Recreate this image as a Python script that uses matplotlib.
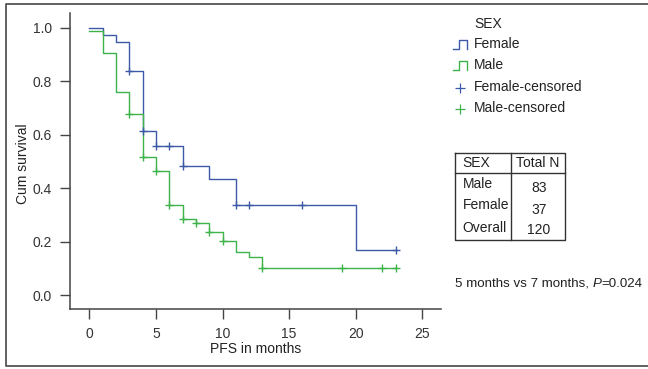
import numpy as np
import matplotlib
matplotlib.use("Agg")
import matplotlib.pyplot as plt

plt.rcParams['font.family'] = ['Liberation Sans', 'DejaVu Sans']
plt.rcParams['mathtext.fontset'] = 'custom'
plt.rcParams['mathtext.rm'] = 'Liberation Sans'
plt.rcParams['mathtext.it'] = 'Liberation Sans:italic'

# Kaplan-Meier steps
female_times = [0, 1, 2, 3, 4, 5, 7, 9, 11, 20, 23]
female_surv = [1.0, 0.973, 0.946, 0.838, 0.615, 0.557, 0.484, 0.434, 0.338, 0.169, 0.169]
male_times = [0, 1, 2, 3, 4, 5, 6, 7, 8, 9, 10, 11, 12, 13, 23]
male_surv = [0.988, 0.904, 0.761, 0.676, 0.517, 0.465, 0.336, 0.283, 0.268, 0.237,
             0.201, 0.161, 0.142, 0.101, 0.101]

# censored observations (months)
female_censored = [3, 4, 5, 6, 7, 11, 12, 16, 23]
male_censored = [3, 4, 5, 6, 7, 8, 9, 10, 13, 19, 22, 23]

# case summary table
table_sex = ["Male", "Female", "Overall"]
table_n = [83, 37, 120]

x_ticks = [0, 5, 10, 15, 20, 25]
y_ticks = [0.0, 0.2, 0.4, 0.6, 0.8, 1.0]

BLUE = "#3d5aa8"
GREEN = "#3db34a"
GRAY = "#444444"
TXT = "#222222"

W, H = 648, 369


def surv_at(times, surv, t):
    idx = np.searchsorted(times, t, side='right') - 1
    return surv[idx]


fig = plt.figure(figsize=(W / 100, H / 100), dpi=100)
ax = fig.add_axes([70 / W, 1 - 309 / H, (441 - 70) / W, (309 - 13) / H])

ax.step(female_times, female_surv, where='post', color=BLUE, lw=1.0)
ax.step(male_times, male_surv, where='post', color=GREEN, lw=1.0)
ax.plot(female_censored, [surv_at(female_times, female_surv, t) for t in female_censored],
        ls='none', marker='+', ms=5.5, mew=1.0, color=BLUE)
ax.plot(male_censored, [surv_at(male_times, male_surv, t) for t in male_censored],
        ls='none', marker='+', ms=5.5, mew=1.0, color=GREEN)

ax.set_xlim(-1.45, 26.4)
ax.set_ylim(-0.052, 1.055)
ax.set_xticks(x_ticks)
ax.set_yticks(y_ticks)
ax.set_yticklabels([f"{v:.1f}" for v in y_ticks])
for side in ['top', 'right']:
    ax.spines[side].set_visible(False)
for side in ['left', 'bottom']:
    ax.spines[side].set_color(GRAY)
    ax.spines[side].set_linewidth(1.1)
ax.tick_params(direction='out', length=7, width=1, color=GRAY, labelcolor='#333333',
               labelsize=10, pad=6)

# overlay in pixel coordinates for the annotations
ov = fig.add_axes([0, 0, 1, 1], zorder=-1)
ov.set_xlim(0, W)
ov.set_ylim(H, 0)
ov.axis('off')
ov.patch.set_alpha(0)

# outer frame
ov.plot([648, 6, 6, 648], [4, 4, 366, 366], color='#555555', lw=1.3)

ov.text(256, 20, "Survival functions", ha='center', va='center', fontsize=10, color=TXT)
ov.text(256, 349, "PFS in months", ha='center', va='center', fontsize=10, color=TXT)
ov.text(22.7, 164, "Cum survival", ha='center', va='center', rotation=90, fontsize=10,
        color=TXT)

# legend
ov.text(474, 24, "SEX", ha='left', va='center', fontsize=10, color=TXT)
legend_rows = [("Female", BLUE, 'step'), ("Male", GREEN, 'step'),
               ("Female-censored", BLUE, 'plus'), ("Male-censored", GREEN, 'plus')]
for i, (label, col, kind) in enumerate(legend_rows):
    yy = 44 + i * 21.3
    if kind == 'step':
        ov.plot([452.5, 459, 459, 466.5, 466.5], [yy + 5, yy + 5, yy - 4, yy - 4, yy + 5],
                color=col, lw=1.0)
    else:
        ov.plot([459.5], [yy + 1], marker='+', ms=7.5, mew=0.9, color=col)
    ov.text(474, yy, label, ha='left', va='center', fontsize=10, color=TXT)

# table
tc = '#333333'
ov.plot([454.7, 565, 565, 454.7, 454.7], [152.7, 152.7, 240, 240, 152.7], color=tc, lw=1.0)
ov.plot([510.7, 510.7], [152.7, 240], color=tc, lw=1.0)
ov.plot([454.7, 565], [173.3, 173.3], color=tc, lw=1.0)
ov.text(462.5, 163.3, "SEX", ha='left', va='center', fontsize=10, color=TXT)
ov.text(516, 163.3, "Total N", ha='left', va='center', fontsize=10, color=TXT)
row_y = [183.5, 205, 228]
for yy, name, n in zip(row_y, table_sex, table_n):
    ov.text(462.5, yy, name, ha='left', va='center', fontsize=10, color=TXT)
    ov.text(539, yy + (5 if name != "Overall" else 2), str(n), ha='center', va='center',
            fontsize=10, color=TXT)

# log-rank note, italic P as its own piece
t1 = ov.text(455, 284, "5 months vs 7 months, ", ha='left', va='center', fontsize=9.6,
             color=TXT)
fig.canvas.draw()
bb = t1.get_window_extent()
x_p = bb.x1
t2 = ov.text(x_p, 284, "P", ha='left', va='center', fontsize=9.6, style='italic',
             color=TXT, transform=None)
t2.set_transform(matplotlib.transforms.IdentityTransform())
t2.set_position((x_p, H - 284))
fig.canvas.draw()
bb2 = t2.get_window_extent()
t3 = ov.text(bb2.x1, H - 284, "=0.024", ha='left', va='center', fontsize=9.6, color=TXT)
t3.set_transform(matplotlib.transforms.IdentityTransform())
t3.set_position((bb2.x1, H - 284))

fig.savefig("out.png", dpi=100)
